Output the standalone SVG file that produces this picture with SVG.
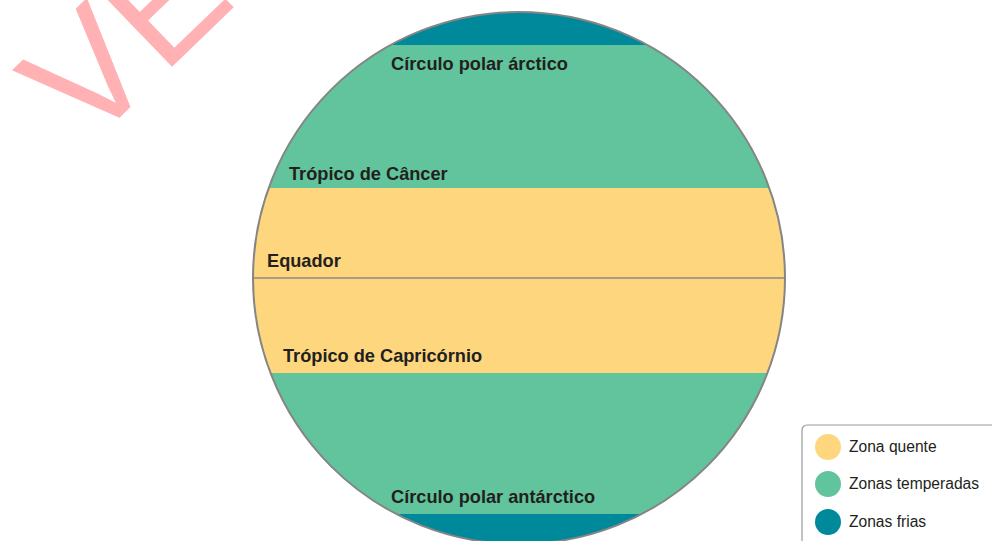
<svg xmlns="http://www.w3.org/2000/svg" width="992" height="541" viewBox="0 0 992 541">
<style>
.lbl{font-family:"Liberation Sans",Arial,sans-serif;font-weight:bold;font-size:18.2px;fill:#231f20}
.leg{font-family:"Liberation Sans",Arial,sans-serif;font-size:15.6px;fill:#231f20}
.hot{fill:#fdd67e}
.temp{fill:#61c49d}
.cold{fill:#00899b}
</style>
<defs>
<clipPath id="globeClip"><circle cx="519" cy="278" r="266"/></clipPath>
</defs>
<rect width="992" height="541" fill="#ffffff"/>
<g id="watermark">
<text x="87" y="149" transform="rotate(-44 87 149)" font-family="'Liberation Sans',Arial,sans-serif" font-size="158" fill="#ffb1b4">VE</text>
</g>
<g id="globe">
<g clip-path="url(#globeClip)">
<rect class="cold" x="250" y="0" width="540" height="45"/>
<rect class="temp" x="250" y="45" width="540" height="143"/>
<rect class="hot" x="250" y="188" width="540" height="185"/>
<rect class="temp" x="250" y="373" width="540" height="141"/>
<rect class="cold" x="250" y="514" width="540" height="40"/>
</g>
<line x1="253" y1="278" x2="785" y2="278" stroke="#8a8a8a" stroke-width="1.6"/>
<circle cx="519" cy="278" r="266" fill="none" stroke="#858585" stroke-width="2"/>
</g>
<g id="labels">
<text class="lbl" x="391" y="70">Círculo polar árctico</text>
<text class="lbl" x="289" y="180">Trópico de Câncer</text>
<text class="lbl" x="267" y="267">Equador</text>
<text class="lbl" x="283" y="362">Trópico de Capricórnio</text>
<text class="lbl" x="391" y="503">Círculo polar antárctico</text>
</g>
<g id="legend">
<rect x="802" y="425" width="200" height="130" rx="5" ry="5" fill="#ffffff" stroke="#9a9a9a" stroke-width="1.2"/>
<circle class="hot" cx="828" cy="447" r="13"/>
<text class="leg" x="849" y="452">Zona quente</text>
<circle class="temp" cx="828" cy="484" r="13"/>
<text class="leg" x="849" y="489">Zonas temperadas</text>
<circle class="cold" cx="828" cy="522" r="13"/>
<text class="leg" x="849" y="527">Zonas frias</text>
</g>
</svg>
